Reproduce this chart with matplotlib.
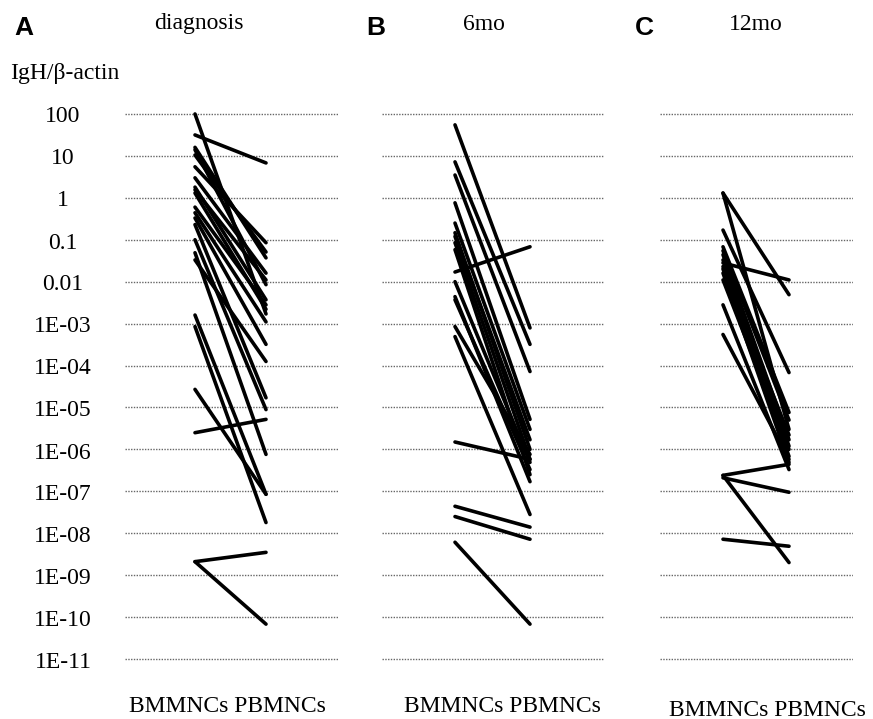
import math
import matplotlib
matplotlib.use("Agg")
import matplotlib.pyplot as plt

# ---------------- data ----------------
panel_letters = ["A", "B", "C"]
panel_titles = ["diagnosis", "6mo", "12mo"]
x_labels = ["BMMNCs", "PBMNCs"]
y_label = "IgH/\u03b2-actin"
tick_values = [1e2, 1e1, 1e0, 1e-1, 1e-2, 1e-3, 1e-4, 1e-5, 1e-6, 1e-7, 1e-8, 1e-9, 1e-10, 1e-11]
tick_labels = ["100", "10", "1", "0.1", "0.01", "1E-03", "1E-04", "1E-05", "1E-06",
               "1E-07", "1E-08", "1E-09", "1E-10", "1E-11"]

# diagnosis: BM values and paired PB values
diag_bm = [100, 31.6, 16, 14, 10.5, 5.5, 3.0, 1.8, 1.55, 1.3, 0.6, 0.44, 0.33, 0.23, 0.1,
           0.049, 0.033, 1.6e-3, 8.5e-4, 2.7e-5, 2.5e-6, 2.1e-9, 2.1e-9]
diag_pb = [1.7e-3, 6.8, 0.037, 8.5e-3, 0.051, 0.085, 0.016, 3.7e-3, 0.011, 2.2e-3, 2.8e-3,
           1.1e-3, 3.2e-4, 1.7e-5, 8.9e-6, 7.6e-7, 1.25e-4, 8.5e-8, 1.8e-8, 8.5e-8, 5.2e-6,
           3.5e-9, 6.8e-11]

# 6 months
m6_bm = [55, 7.2, 3.5, 0.76, 0.25, 0.147, 0.12, 0.085, 0.058, 0.017, 0.01, 4.4e-3, 3.7e-3,
         8.5e-4, 4.9e-4, 1.5e-6, 4.4e-8, 2.5e-8, 6.1e-9]
m6_pb = [7.9e-4, 3.2e-4, 7.2e-5, 5.2e-6, 3.0e-6, 1.0e-6, 1.7e-6, 5.8e-7, 2.5e-7, 0.068,
         4.9e-7, 1.7e-7, 3.3e-7, 7.6e-7, 2.8e-8, 5.8e-7, 1.4e-8, 7.2e-9, 6.8e-11]

# 12 months
m12_bm = [1.3, 1.3, 0.17, 0.068, 0.055, 0.044, 0.033, 0.028, 0.023, 0.02, 0.016, 0.011,
          2.8e-3, 5.5e-4, 2.4e-7, 2.1e-7, 2.4e-7, 7.2e-9]
m12_pb = [4.9e-3, 3.0e-6, 6.8e-5, 7.6e-6, 5.0e-6, 1.7e-6, 1.2e-6, 0.011, 6.8e-7, 2.2e-6,
          4.9e-7, 1.0e-6, 3.3e-7, 5.8e-7, 4.4e-7, 9.5e-8, 2.0e-9, 4.9e-9]

panels_bm = [diag_bm, m6_bm, m12_bm]
panels_pb = [diag_pb, m6_pb, m12_pb]

# ---------------- layout ----------------
W, H = 873, 719
fig = plt.figure(figsize=(W / 100, H / 100), dpi=100)
fig.patch.set_facecolor("white")

serif = ["Liberation Serif", "DejaVu Serif"]
sans = ["Liberation Sans", "DejaVu Sans"]

# pixel geometry for each panel: axes left, right, BM x, PB x
geom = [(125, 338, 195, 266), (382, 604, 455, 530), (660, 853, 723, 789)]
letter_x = [24, 376, 644]
title_x = [199, 484, 756]
xlab_pos = [(227, 706), (502, 706), (767, 710)]

ax_top_px, ax_bot_px = 100, 672
px_per_dec = 42.0
y_top_log = 2 + (114 - ax_top_px) / px_per_dec
y_bot_log = -11 - (ax_bot_px - 659) / px_per_dec

for i, (left, right, bmx, pbx) in enumerate(geom):
    ax = fig.add_axes([left / W, 1 - ax_bot_px / H, (right - left) / W,
                       (ax_bot_px - ax_top_px) / H])
    scale = pbx - bmx
    ax.set_xlim((left - bmx) / scale, (right - bmx) / scale)
    ax.set_yscale("log")
    ax.set_ylim(10 ** y_bot_log, 10 ** y_top_log)
    for v in tick_values:
        ax.axhline(v, color="#666666", lw=1.0, ls=(0, (1, 1)), zorder=1)
    for b, p in zip(panels_bm[i], panels_pb[i]):
        ax.plot([0, 1], [b, p], color="black", lw=2.6, solid_capstyle="round", zorder=3)
    ax.set_axis_off()

    fig.text(letter_x[i] / W, 1 - 28 / H, panel_letters[i], fontsize=19, fontweight="bold",
             family=sans, ha="center", va="center")
    fig.text(title_x[i] / W, 1 - 24 / H, panel_titles[i], fontsize=17, family=serif,
             ha="center", va="center")
    fig.text(xlab_pos[i][0] / W, 1 - xlab_pos[i][1] / H, x_labels[0] + " " + x_labels[1],
             fontsize=17, family=serif, ha="center", va="center")

# y tick labels (panel A only)
for v, lab in zip(tick_values, tick_labels):
    ypx = 114 + (2 - math.log10(v)) * px_per_dec + 3
    fig.text(63 / W, 1 - ypx / H, lab, fontsize=17, family=serif, ha="center", va="center")

fig.text(10 / W, 1 - 73 / H, y_label, fontsize=17, family=serif, ha="left", va="center")

fig.savefig("out.png", dpi=100, facecolor="white")
